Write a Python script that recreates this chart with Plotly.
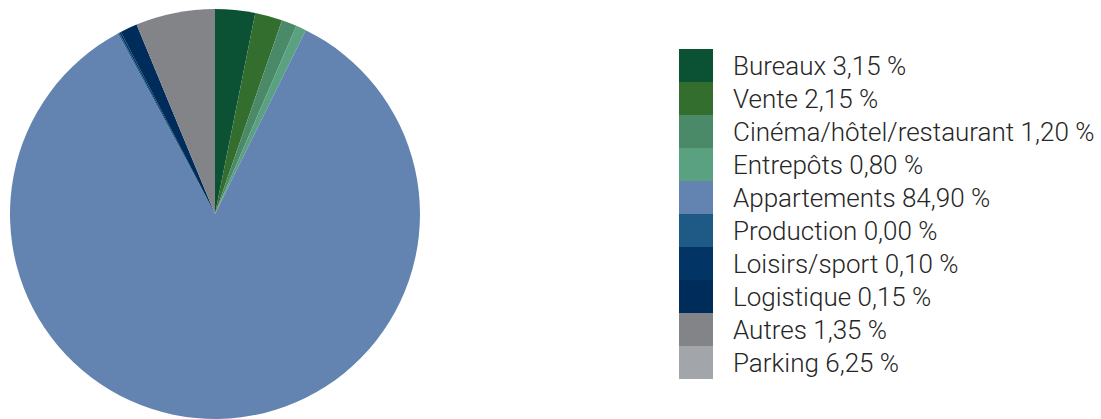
import plotly.graph_objects as go

# Share of rental income by use type (%)
categories = [
    "Bureaux", "Vente", "Cinéma/hôtel/restaurant", "Entrepôts", "Appartements",
    "Production", "Loisirs/sport", "Logistique", "Autres", "Parking",
]
shares = [3.15, 2.15, 1.20, 0.80, 84.90, 0.00, 0.10, 0.15, 1.35, 6.25]
shares_text = ["3,15", "2,15", "1,20", "0,80", "84,90", "0,00", "0,10", "0,15", "1,35", "6,25"]
palette = [
    "#0b5133", "#336e2f", "#4b8a69", "#5aa181", "#6384b0",
    "#1f5a87", "#023566", "#002c5c", "#838487", "#a2a5a9",
]

W, H = 1101, 419

# Pie: empty categories are skipped, colours are taken from the palette in sequence
pie_values = [v for v in shares if v > 0]
pie_labels = [c for c, v in zip(categories, shares) if v > 0]
pie_colors = palette[: len(pie_values)]

fig = go.Figure()

cx, r = 215, 205
fig.add_trace(go.Pie(
    labels=pie_labels,
    values=pie_values,
    sort=False,
    direction="clockwise",
    rotation=0,
    textinfo="none",
    hoverinfo="label+percent",
    marker=dict(colors=pie_colors, line=dict(width=0)),
    domain=dict(x=[(cx - r) / W, (cx + r) / W], y=[0, 2 * r / H]),
    showlegend=False,
))

# Hidden pixel-space axes for the legend block
fig.add_trace(go.Scatter(x=[0, W], y=[0, H], mode="markers",
                         marker=dict(opacity=0), hoverinfo="skip", showlegend=False))

sw_x0, sw_x1, row_top, row_h = 679, 713, 49, 33
for i, (name, txt, col) in enumerate(zip(categories, shares_text, palette)):
    y0 = row_top + i * row_h
    fig.add_shape(type="rect", xref="x", yref="y",
                  x0=sw_x0, x1=sw_x1, y0=y0, y1=y0 + row_h,
                  fillcolor=col, line=dict(width=0), layer="below")
    fig.add_annotation(x=731, y=y0 + row_h / 2 + 0.5, xref="x", yref="y",
                       text=f"{name} {txt} %", showarrow=False,
                       xanchor="left", yanchor="middle",
                       font=dict(family="Roboto, Liberation Sans, sans-serif",
                                 size=26, color="#262626", weight=300))

fig.update_xaxes(range=[0, W], visible=False, fixedrange=True)
fig.update_yaxes(range=[H, 0], visible=False, fixedrange=True)
fig.update_layout(
    width=W, height=H,
    margin=dict(l=0, r=0, t=0, b=0),
    paper_bgcolor="white", plot_bgcolor="rgba(0,0,0,0)",
)

fig.write_html("out.html")
